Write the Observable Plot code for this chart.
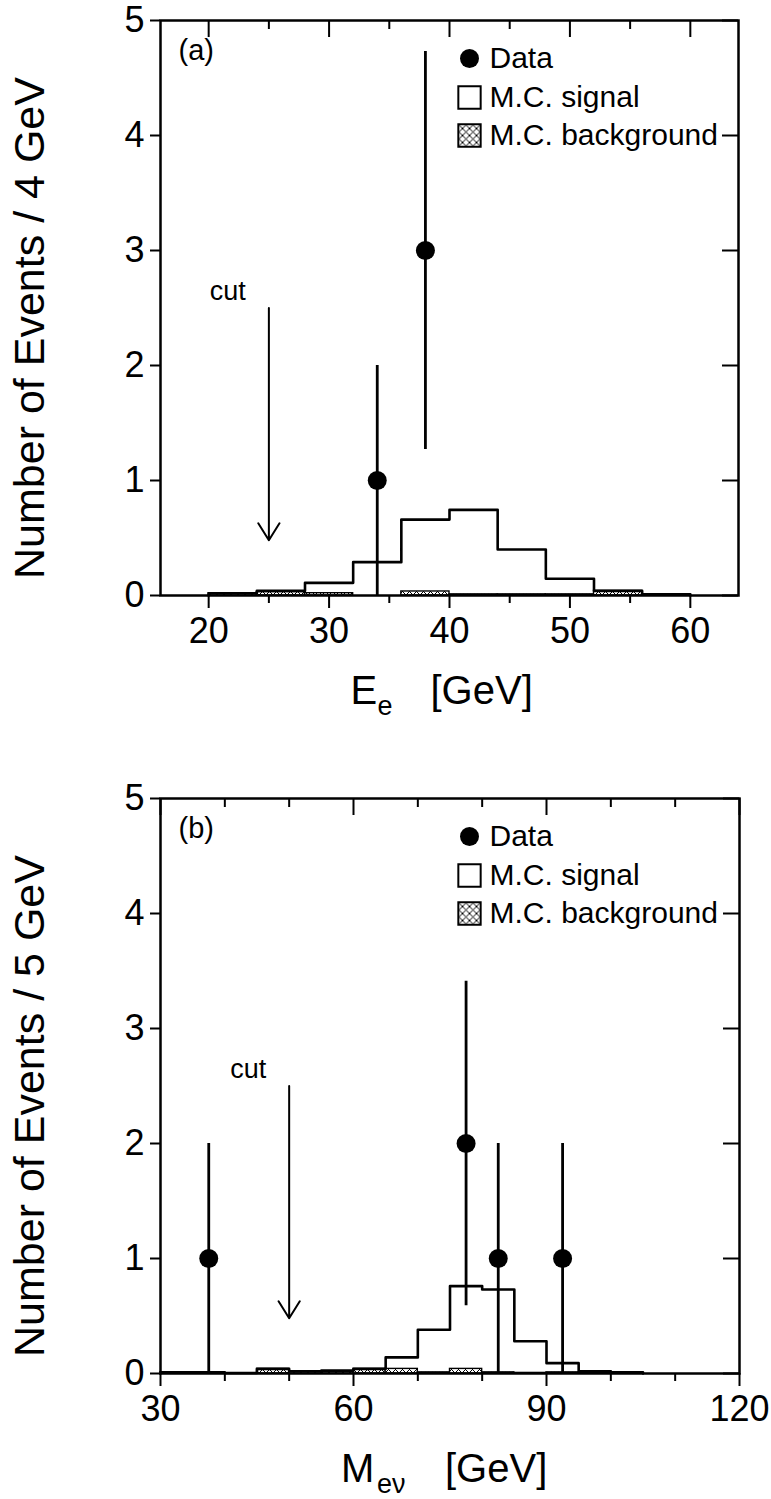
<!DOCTYPE html>
<html><head><meta charset="utf-8">
<script src="https://cdn.jsdelivr.net/npm/d3@7"></script>
<script src="https://cdn.jsdelivr.net/npm/@observablehq/plot@0.6"></script>
<style>
body{margin:0;background:#fff;}
#chart svg{display:block;}
</style>
</head><body><div id="chart"></div>
<script>
// ---------- Panel (a): electron energy ----------
const aBinEdges   = [20, 24, 28, 32, 36, 40, 44, 48, 52, 56, 60];
const aSignal     = [0.02, 0.04, 0.11, 0.29, 0.66, 0.745, 0.40, 0.146, 0.04, 0.01];
const aBackground = [0.02, 0.03, 0.02, 0.0, 0.035, 0.01, 0.01, 0.01, 0.04, 0.01];
const aDataX      = [34, 38];
const aDataY      = [1, 3];
const aErrLow     = [0, 1.27];
const aErrHigh    = [2, 4.73];
const aCut        = 25;
const aXMajor     = [20, 30, 40, 50, 60];
const aXMinor     = [25, 35, 45, 55];

// ---------- Panel (b): e-nu invariant mass ----------
const bBinEdges   = [30, 35, 40, 45, 50, 55, 60, 65, 70, 75, 80, 85, 90, 95, 100, 105];
const bSignal     = [0.01, 0.01, 0.005, 0.04, 0.02, 0.025, 0.04, 0.14, 0.38, 0.76, 0.73, 0.28, 0.09, 0.02, 0.01];
const bBackground = [0.01, 0.01, 0.0, 0.04, 0.015, 0.02, 0.04, 0.04, 0.01, 0.04, 0.01, 0.005, 0.01, 0.01, 0.005];
const bDataX      = [37.5, 77.5, 82.5, 92.5];
const bDataY      = [1, 2, 1, 1];
const bErrLow     = [0, 0.59, 0, 0];
const bErrHigh    = [2, 3.41, 2, 2];
const bCut        = 50;
const bXMajor     = [30, 60, 90, 120];
const bXMinor     = [40, 50, 70, 80, 100, 110];

const yTicks      = [0, 1, 2, 3, 4, 5];
const cutTop      = 2.5;
const cutTip      = 0.48;
const legendItems = ["Data", "M.C. signal", "M.C. background"];

const FONT = "'Liberation Sans', Arial, Helvetica, sans-serif";

function panel(o) {
  const W = 771, innerH = 575;
  const innerW = W - o.mL - o.mR;
  const steps = [{x: o.edges[0], y: 0}];
  o.signal.forEach((v, i) => steps.push({x: o.edges[i], y: v}));
  steps.push({x: o.edges[o.edges.length - 1], y: 0});
  const bg = o.background.map((v, i) => ({x1: o.edges[i], x2: o.edges[i + 1], y: v})).filter(d => d.y > 0);
  const pts = o.dataX.map((x, i) => ({x, y: o.dataY[i], lo: o.errLow[i], hi: o.errHigh[i]}));

  const svg = Plot.plot({
    width: W, height: o.height,
    marginTop: o.mT, marginBottom: o.mB, marginLeft: o.mL, marginRight: o.mR,
    style: {fontFamily: FONT, background: "white", color: "black"},
    x: {domain: o.domain},
    y: {domain: [0, 5]},
    marks: [
      // outward ticks (left & bottom)
      Plot.axisY({ticks: yTicks, tickFormat: d => String(d), tickSize: 10, tickPadding: 6, fontSize: 36, label: null, strokeWidth: 2}),
      Plot.axisX({ticks: o.xMajor, tickFormat: d => String(d), tickSize: 13, tickPadding: 9, fontSize: 36, label: null, strokeWidth: 2}),
      Plot.axisX({ticks: o.xMinor, tickSize: 8, tickFormat: () => "", label: null, strokeWidth: 2}),
      // inward ticks (top & right)
      Plot.tickX(o.xMajor, {x: d => d, insetBottom: innerH - 17, strokeWidth: 2}),
      Plot.tickX(o.xMinor, {x: d => d, insetBottom: innerH - 9, strokeWidth: 2}),
      Plot.tickY(yTicks, {y: d => d, insetLeft: innerW - 16, strokeWidth: 2}),
      // background histogram (hatched)
      Plot.rect(bg, {x1: "x1", x2: "x2", y1: 0, y2: "y", fill: `url(#${o.id})`, stroke: "black", strokeWidth: 1.4}),
      // signal histogram
      Plot.line(steps, {x: "x", y: "y", curve: "step-after", stroke: "black", strokeWidth: 2.6}),
      // data with errors
      Plot.ruleX(pts, {x: "x", y1: "lo", y2: "hi", stroke: "black", strokeWidth: 2.8}),
      Plot.dot(pts, {x: "x", y: "y", r: 9.5, fill: "black"}),
      // cut arrow
      Plot.arrow([o.cut], {x1: d => d, x2: d => d, y1: cutTop, y2: cutTip, stroke: "black", strokeWidth: 2, headLength: 15, headAngle: 64}),
      Plot.text([o.cut], {x: d => d, y: cutTop, text: () => "cut", dx: -23, dy: -8, textAnchor: "end", lineAnchor: "bottom", fontSize: 27}),
      // frame
      Plot.frame({stroke: "black", strokeWidth: 2.5}),
      // panel tag
      Plot.text([o.tag], {frameAnchor: "top-left", dx: 18, dy: 30, textAnchor: "start", lineAnchor: "middle", fontSize: 29}),
      // legend
      Plot.dot([0], {frameAnchor: "top-left", dx: 309, dy: 38, r: 9.5, fill: "black"}),
      Plot.dot([0], {frameAnchor: "top-left", dx: 309, dy: 77, r: 12.6, symbol: "square", fill: "white", stroke: "black", strokeWidth: 2}),
      Plot.dot([0], {frameAnchor: "top-left", dx: 309, dy: 115, r: 12.6, symbol: "square", fill: `url(#${o.id})`, stroke: "black", strokeWidth: 2}),
      Plot.text([legendItems[0]], {frameAnchor: "top-left", dx: 329, dy: 38, textAnchor: "start", lineAnchor: "middle", fontSize: 30}),
      Plot.text([legendItems[1]], {frameAnchor: "top-left", dx: 329, dy: 77, textAnchor: "start", lineAnchor: "middle", fontSize: 30}),
      Plot.text([legendItems[2]], {frameAnchor: "top-left", dx: 329, dy: 115, textAnchor: "start", lineAnchor: "middle", fontSize: 30}),
      // y-axis title
      Plot.text([o.yLabel], {frameAnchor: "left", dx: -130, dy: 20, rotate: -90, textAnchor: "middle", lineAnchor: "middle", fontSize: 43}),
      // x-axis title with subscript
      Plot.text([o.xMain], {frameAnchor: "bottom", dx: o.xOff[0], dy: 108, textAnchor: "start", lineAnchor: "bottom", fontSize: 40}),
      Plot.text([o.xSub], {frameAnchor: "bottom", dx: o.xOff[1], dy: 119, textAnchor: "start", lineAnchor: "bottom", fontSize: 27}),
      Plot.text(["[GeV]"], {frameAnchor: "bottom", dx: o.xOff[2], dy: 108, textAnchor: "start", lineAnchor: "bottom", fontSize: 40})
    ]
  });
  svg.insertAdjacentHTML("afterbegin",
    `<defs><pattern id="${o.id}" patternUnits="userSpaceOnUse" width="7" height="7">` +
    `<rect width="7" height="7" fill="white"/>` +
    `<path d="M0,0L7,7M7,0L0,7" stroke="black" stroke-width="1"/></pattern></defs>`);
  return svg;
}

const root = document.getElementById("chart");
root.appendChild(panel({
  id: "hatchA", height: 778, mT: 20, mB: 183, mL: 160, mR: 33,
  domain: [16, 64], edges: aBinEdges, signal: aSignal, background: aBackground,
  dataX: aDataX, dataY: aDataY, errLow: aErrLow, errHigh: aErrHigh, cut: aCut,
  xMajor: aXMajor, xMinor: aXMinor, tag: "(a)",
  yLabel: "Number of Events / 4 GeV", xMain: "E", xSub: "e", xOff: [-99, -72, -19]
}));
root.appendChild(panel({
  id: "hatchB", height: 721, mT: 20, mB: 126, mL: 160, mR: 32,
  domain: [30, 120], edges: bBinEdges, signal: bSignal, background: bBackground,
  dataX: bDataX, dataY: bDataY, errLow: bErrLow, errHigh: bErrHigh, cut: bCut,
  xMajor: bXMajor, xMinor: bXMinor, tag: "(b)",
  yLabel: "Number of Events / 5 GeV", xMain: "M", xSub: "eν", xOff: [-109, -73, -5]
}));
</script>
</body></html>
